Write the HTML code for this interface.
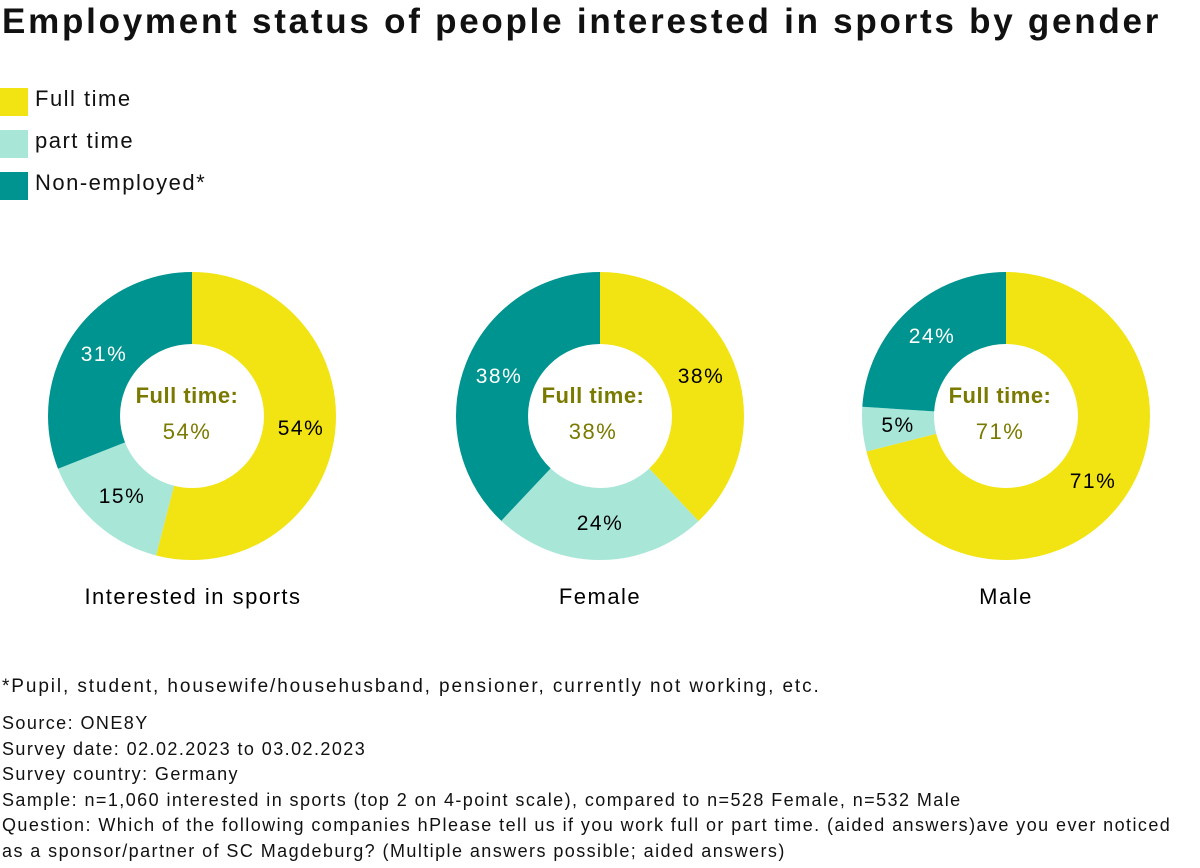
<!DOCTYPE html>
<html><head><meta charset="utf-8"><style>
body{margin:0;width:1200px;height:868px;background:#fff;font-family:"Liberation Sans",sans-serif;color:#111;position:relative;overflow:hidden}
.t{position:absolute;white-space:nowrap}
.sw{position:absolute;left:0;width:28px;height:28px}
svg text{letter-spacing:1.5px}
</style></head><body>
<div class="t" style="left:2px;top:2px;font-size:35px;font-weight:bold;letter-spacing:2.75px">Employment status of people interested in sports by gender</div>
<div class="sw" style="top:88px;background:#f2e313"></div><div class="t" style="left:35px;top:86px;font-size:22px;letter-spacing:1.5px">Full time</div>
<div class="sw" style="top:130px;background:#a8e6d8"></div><div class="t" style="left:35px;top:128px;font-size:22px;letter-spacing:1.5px">part time</div>
<div class="sw" style="top:172px;background:#009490"></div><div class="t" style="left:35px;top:170px;font-size:22px;letter-spacing:1.5px">Non-employed*</div>
<svg width="1200" height="868" style="position:absolute;left:0;top:0">
<g fill="none" stroke-width="72">
<g transform="rotate(-90 192 416)">
<circle cx="192" cy="416" r="108" stroke="#f2e313" stroke-dasharray="366.43 1000" stroke-dashoffset="0"/>
<circle cx="192" cy="416" r="108" stroke="#a8e6d8" stroke-dasharray="101.79 1000" stroke-dashoffset="-366.43"/>
<circle cx="192" cy="416" r="108" stroke="#009490" stroke-dasharray="210.36 1000" stroke-dashoffset="-468.22"/>
</g>
<g transform="rotate(-90 600 416)">
<circle cx="600" cy="416" r="108" stroke="#f2e313" stroke-dasharray="257.86 1000" stroke-dashoffset="0"/>
<circle cx="600" cy="416" r="108" stroke="#a8e6d8" stroke-dasharray="162.86 1000" stroke-dashoffset="-257.86"/>
<circle cx="600" cy="416" r="108" stroke="#009490" stroke-dasharray="257.86 1000" stroke-dashoffset="-420.72"/>
</g>
<g transform="rotate(-90 1006 416)">
<circle cx="1006" cy="416" r="108" stroke="#f2e313" stroke-dasharray="481.79 1000" stroke-dashoffset="0"/>
<circle cx="1006" cy="416" r="108" stroke="#a8e6d8" stroke-dasharray="33.93 1000" stroke-dashoffset="-481.79"/>
<circle cx="1006" cy="416" r="108" stroke="#009490" stroke-dasharray="162.86 1000" stroke-dashoffset="-515.72"/>
</g>
</g>
<g font-size="21" text-anchor="middle">
<text x="301" y="435">54%</text><text x="122" y="503">15%</text><text x="104" y="361" fill="#fff">31%</text>
<text x="701" y="383">38%</text><text x="600" y="530">24%</text><text x="499" y="383" fill="#fff">38%</text>
<text x="1093" y="488">71%</text><text x="898" y="432">5%</text><text x="932" y="343" fill="#fff">24%</text>
</g>
<g font-size="22" text-anchor="middle" fill="#7a7a00">
<text x="187" y="403" font-weight="bold" style="letter-spacing:0.5px">Full time:</text><text x="187" y="439">54%</text>
<text x="593" y="403" font-weight="bold" style="letter-spacing:0.5px">Full time:</text><text x="593" y="439">38%</text>
<text x="1000" y="403" font-weight="bold" style="letter-spacing:0.5px">Full time:</text><text x="1000" y="439">71%</text>
</g>
<g font-size="22" text-anchor="middle">
<text x="193" y="604">Interested in sports</text><text x="600" y="604">Female</text><text x="1006" y="604">Male</text>
</g>
</svg>
<div class="t" style="left:2px;top:676px;font-size:19px;letter-spacing:1.9px">*Pupil, student, housewife/househusband, pensioner, currently not working, etc.</div>
<div style="position:absolute;left:2px;top:711px;font-size:18px;line-height:25.5px;white-space:nowrap;letter-spacing:1.43px">Source: ONE8Y<br>Survey date: 02.02.2023 to 03.02.2023<br>Survey country: Germany<br>Sample: n=1,060 interested in sports (top 2 on 4-point scale), compared to n=528 Female, n=532 Male<br>Question: Which of the following companies hPlease tell us if you work full or part time. (aided answers)ave you ever noticed<br>as a sponsor/partner of SC Magdeburg? (Multiple answers possible; aided answers)</div>
</body></html>
